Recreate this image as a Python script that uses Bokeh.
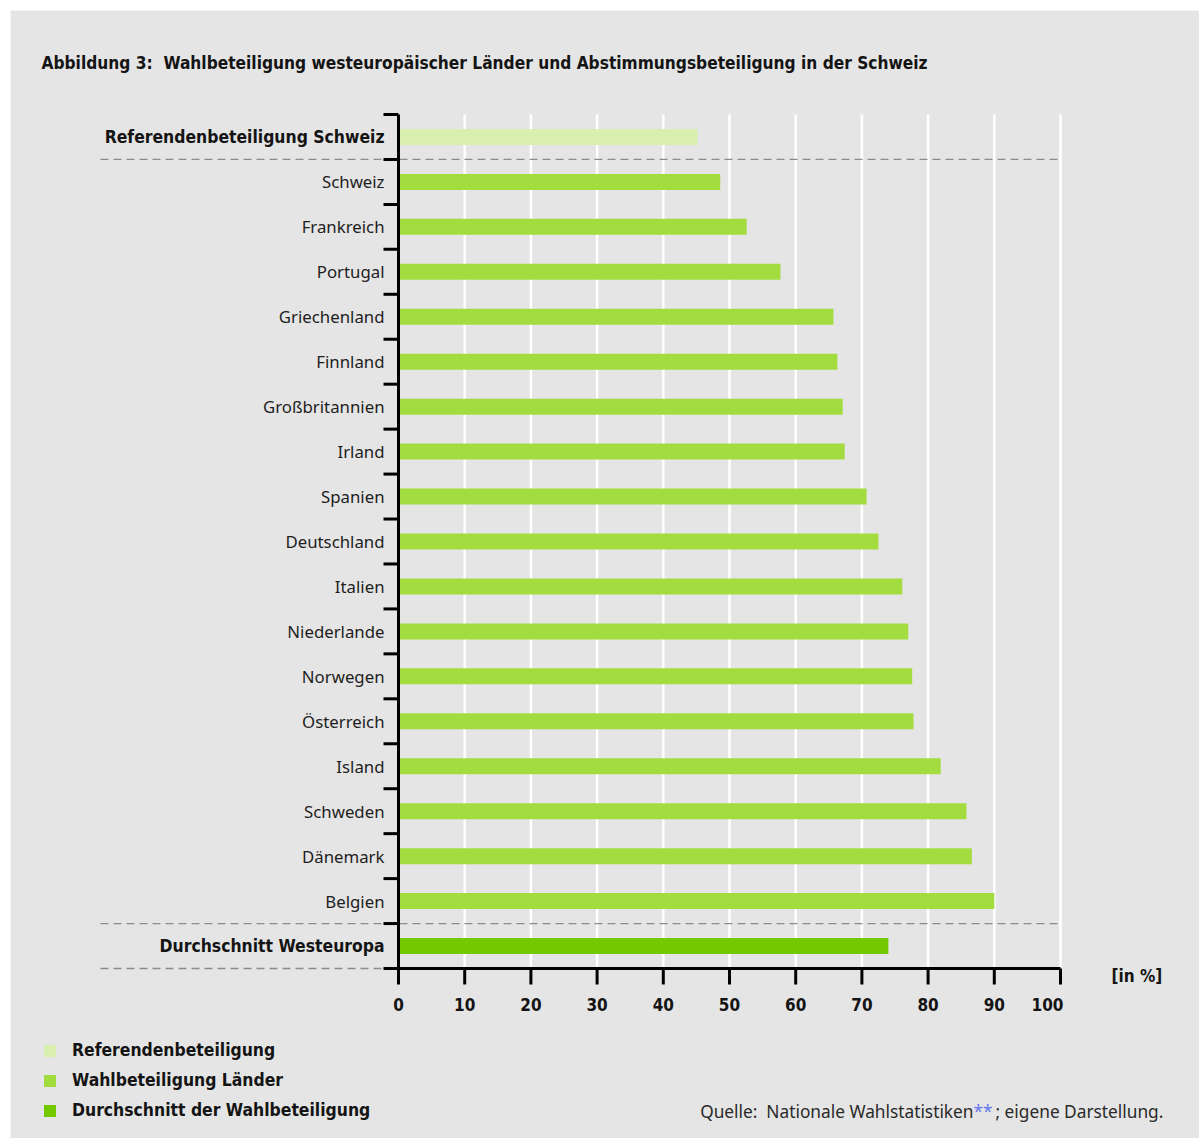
from bokeh.plotting import figure
from bokeh.models import Range1d, Legend, LegendItem, Label
from bokeh.core.properties import value
from bokeh.embed import file_html
from bokeh.resources import INLINE

# ---------------- data ----------------
ref_label = "Referendenbeteiligung Schweiz"
ref_value = 45.2
countries = ["Schweiz", "Frankreich", "Portugal", "Griechenland", "Finnland",
             "Großbritannien", "Irland", "Spanien", "Deutschland", "Italien",
             "Niederlande", "Norwegen", "Österreich", "Island", "Schweden",
             "Dänemark", "Belgien"]
country_values = [48.6, 52.6, 57.7, 65.7, 66.3, 67.1, 67.4, 70.7, 72.5, 76.1,
                  77.0, 77.6, 77.8, 81.9, 85.8, 86.6, 90.0]
avg_label = "Durchschnitt Westeuropa"
avg_value = 74.0
x_ticks = [0, 10, 20, 30, 40, 50, 60, 70, 80, 90, 100]
x_tick_labels = ["0", "10", "20", "30", "40", "50", "60", "70", "80", "90", "100"]
legend_labels = ["Referendenbeteiligung", "Wahlbeteiligung Länder",
                 "Durchschnitt der Wahlbeteiligung"]
title_text = "Abbildung 3:\u00a0 Wahlbeteiligung westeuropäischer Länder und Abstimmungsbeteiligung in der Schweiz"
unit_text = "[in %]"
source_parts = ["Quelle:\u00a0 Nationale Wahlstatistiken", "**", "; eigene Darstellung."]

# ---------------- style / layout ----------------
W, H = 1199, 1138
BG = "#e5e5e5"
C_REF = "#d8efb0"
C_LAND = "#a3dc3e"
C_AVG = "#74c800"
TXT = "#141414"
BOLD = "DejaVu Sans Condensed"
REG = "Noto Sans"
BSIZE = "17.4px"

n_rows = 1 + len(countries) + 1
AX_X, AX_Y, AX_TOP = 398, 968, 114       # pixel position of the value axis origin / top
PXU = (1060 - AX_X) / 100.0               # pixels per percent
PYU = (AX_Y - AX_TOP) / n_rows            # pixels per row


def rx(px):  # page pixel -> data x
    return (px - AX_X) / PXU


def ry(py):  # page pixel -> data y
    return (AX_Y - py) / PYU


def row_y(i):  # row index from top -> row center
    return n_rows - i - 0.5


p = figure(frame_width=W, frame_height=H, title=None,
           x_range=Range1d(rx(0), rx(W)), y_range=Range1d(ry(H), ry(0)),
           x_axis_location=None, y_axis_location=None,
           output_backend="svg", toolbar_location=None,
           min_border=0, background_fill_color="white",
           border_fill_color="white", outline_line_color=None)
p.grid.grid_line_color = None

# grey panel
p.quad(left=[rx(10)], right=[rx(W)], top=[ry(10)], bottom=[ry(H)],
       fill_color=BG, line_color=None)

# vertical white grid lines
gx = [t for t in x_ticks if t > 0]
p.segment(x0=gx, x1=gx, y0=[0] * len(gx), y1=[n_rows] * len(gx),
          line_color="white", line_width=2.5)

# dashed separators
LEFT = rx(100)
sep_y = [n_rows - 1, 1]
p.segment(x0=[LEFT] * 2, x1=[x_ticks[-1]] * 2, y0=sep_y, y1=sep_y,
          line_color="#8c8c8c", line_width=1.3, line_dash="8 5")
p.segment(x0=[LEFT], x1=[0], y0=[0], y1=[0],
          line_color="#8c8c8c", line_width=1.3, line_dash="8 5")

# bars
bh = 16 / PYU
r_ref = p.hbar(y=[row_y(0)], left=0, right=[ref_value], height=bh,
               fill_color=C_REF, line_color=None)
ys_c = [row_y(i + 1) for i in range(len(countries))]
r_land = p.hbar(y=ys_c, left=0, right=country_values, height=bh,
                fill_color=C_LAND, line_color=None)
r_avg = p.hbar(y=[row_y(n_rows - 1)], left=0, right=[avg_value], height=bh,
               fill_color=C_AVG, line_color=None)

# category axis (ticks at category boundaries)
bounds = list(range(n_rows + 1))
p.segment(x0=[-15 / PXU] * len(bounds), x1=[0] * len(bounds), y0=bounds, y1=bounds,
          line_color="black", line_width=3)
p.segment(x0=[0], x1=[0], y0=[0], y1=[n_rows], line_color="black", line_width=3)

# value axis
p.segment(x0=[x_ticks[0]], x1=[x_ticks[-1]], y0=[0], y1=[0],
          line_color="black", line_width=3)
p.segment(x0=x_ticks, x1=x_ticks, y0=[0] * len(x_ticks), y1=[-16 / PYU] * len(x_ticks),
          line_color="black", line_width=3)
lab_y = ry(1004)
p.text(x=x_ticks[:-1], y=[lab_y] * (len(x_ticks) - 1), text=x_tick_labels[:-1],
       text_align="center", text_baseline="middle",
       text_font=value(BOLD), text_font_style="bold", text_font_size="17px",
       text_color=TXT)
p.text(x=x_ticks[-1:], y=[lab_y], text=x_tick_labels[-1:], x_offset=3,
       text_align="right", text_baseline="middle",
       text_font=value(BOLD), text_font_style="bold", text_font_size="17px",
       text_color=TXT)

# category labels
lab_x = -14 / PXU
p.text(x=[lab_x] * len(countries), y=ys_c, text=countries,
       text_align="right", text_baseline="middle",
       text_font=value(REG), text_font_size="16.8px", text_color="#1e1e1e")
p.text(x=[lab_x] * 2, y=[row_y(0), row_y(n_rows - 1)], text=[ref_label, avg_label],
       text_align="right", text_baseline="middle",
       text_font=value(BOLD), text_font_style="bold", text_font_size=BSIZE,
       text_color=TXT)

# title and unit
p.add_layout(Label(x=rx(41), y=ry(62), text=title_text, text_align="left",
                   text_baseline="middle", text_font=BOLD, text_font_style="bold",
                   text_font_size="17.2px", text_color=TXT))
p.add_layout(Label(x=rx(1111), y=ry(975), text=unit_text, text_align="left",
                   text_baseline="middle", text_font=BOLD, text_font_style="bold",
                   text_font_size="17px", text_color=TXT))

# source
for txt, xx, al, col in [(source_parts[0], 973, "right", "#2a2a2a"),
                         (source_parts[1], 973, "left", "#6677ee"),
                         (source_parts[2], 995, "left", "#2a2a2a")]:
    p.add_layout(Label(x=rx(xx), y=ry(1111), text=txt, text_align=al,
                       text_baseline="middle", text_font=REG, text_font_size="17.3px",
                       text_color=col))

# legend
legend = Legend(items=[LegendItem(label=legend_labels[0], renderers=[r_ref]),
                       LegendItem(label=legend_labels[1], renderers=[r_land]),
                       LegendItem(label=legend_labels[2], renderers=[r_avg])],
                location=(42, 18), orientation="vertical",
                background_fill_alpha=0, border_line_color=None,
                padding=0, margin=0, spacing=10,
                glyph_width=15, glyph_height=15, label_height=20,
                label_standoff=15,
                label_text_font=BOLD, label_text_font_style="bold",
                label_text_font_size=BSIZE, label_text_color=TXT)
p.add_layout(legend, "center")

open("out.html", "w").write(file_html(p, INLINE))
